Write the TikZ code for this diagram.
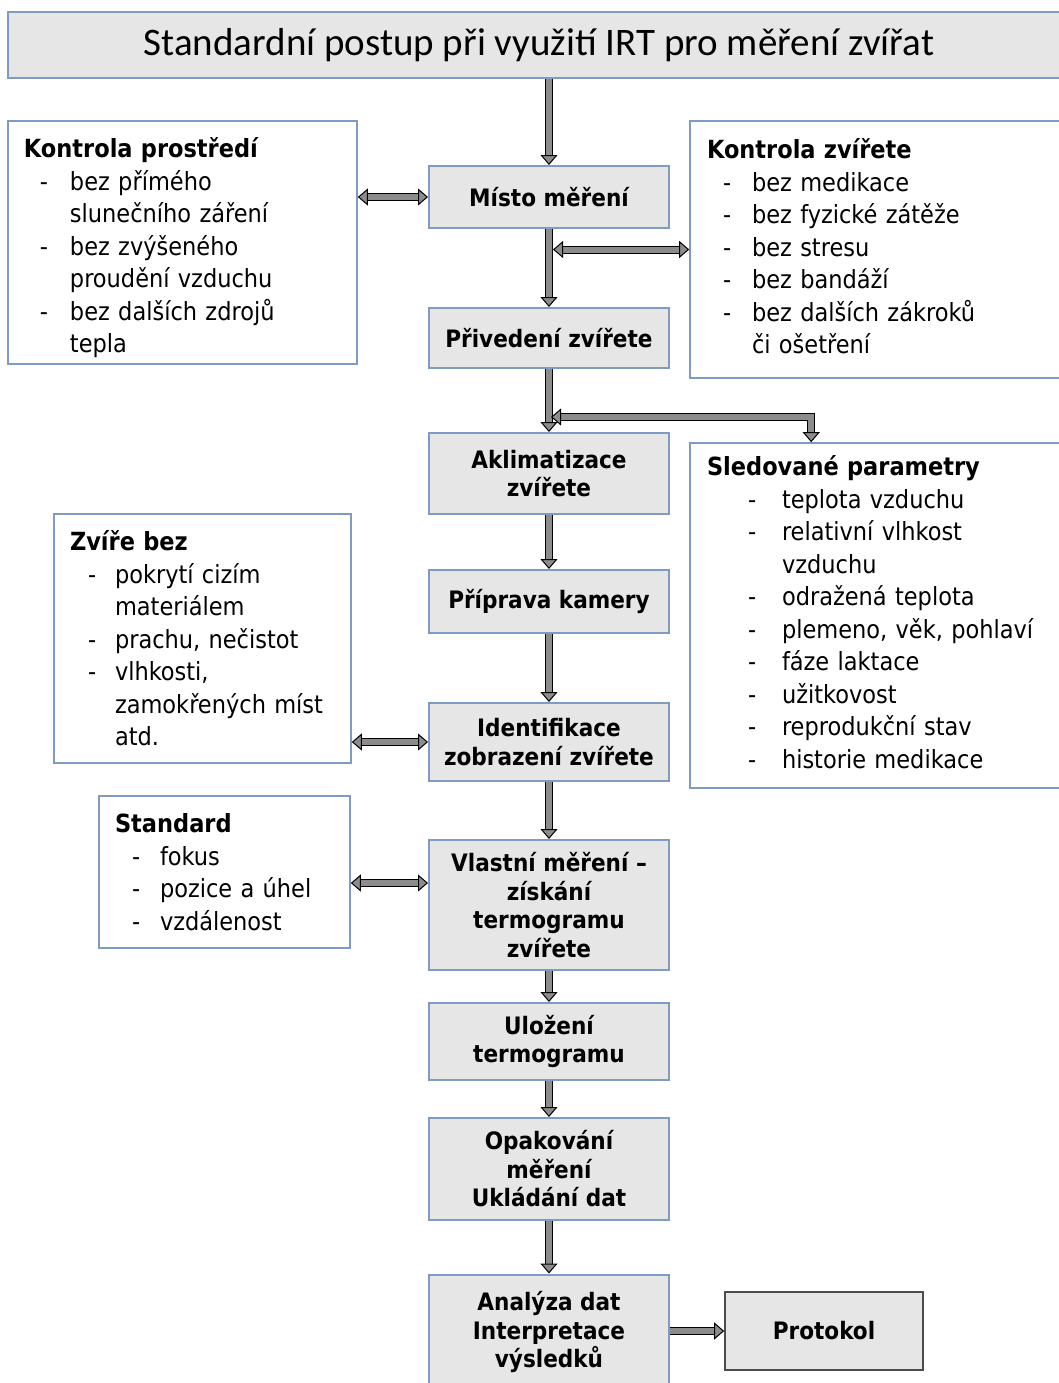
\documentclass[tikz,border=0pt]{standalone}
\usepackage{fontspec}
\setmainfont{DejaVu Sans Condensed}
\newfontfamily\titlefont{Carlito}
\usepackage{array}
\usetikzlibrary{arrows.meta}

\definecolor{boxblue}{RGB}{125,155,195}
\definecolor{boxgray}{RGB}{230,230,230}
\definecolor{shaftgray}{RGB}{140,140,140}

% side list: dash indent, dash column width, header, rows
\newcommand{\sidelist}[4]{%
	\begin{tabular}{@{\hspace{#1}}p{#2}@{}l@{}}
		\multicolumn{2}{@{}l@{}}{\textbf{#3}}\\
		#4
	\end{tabular}}

\tikzset{
	stepbox/.style={draw=boxblue, line width=1pt, fill=boxgray, minimum width=120pt,
		align=center, inner sep=2pt, font=\bfseries\fontsize{12}{14.25}\selectfont},
	sidebox/.style={draw=boxblue, line width=0.8pt, fill=white, align=left,
		inner ysep=0pt, font=\fontsize{12.5}{16.25}\selectfont},
	fattip/.tip={Triangle[open, fill=shaftgray, length=5pt, width=8.5pt]},
	fatarrow/.style={draw=black, line width=0.5pt, double=shaftgray, double distance=3pt, -fattip},
	fatboth/.style={fatarrow, fattip-fattip}
}

\begin{document}
\begin{tikzpicture}[x=0.5pt, y=-0.5pt]
	\clip (0,0) rectangle (1059,1383);
	
	% Title
	\node[draw=boxblue, line width=1pt, fill=boxgray, minimum width=531pt, minimum height=33pt,
		font=\titlefont\fontsize{19.5}{22}\selectfont] (title) at (539,45)
		{Standardní postup při využití IRT pro měření zvířat};
	
	% Main steps
	\node[stepbox, minimum height=31pt] (misto) at (549,197) {Místo měření};
	\node[stepbox, minimum height=30pt] (privedeni) at (549,338) {Přivedení zvířete};
	\node[stepbox, minimum height=40.5pt] (aklim) at (549,473.5) {Aklimatizace\\zvířete};
	\node[stepbox, minimum height=31.5pt] (kamera) at (549,601.5) {Příprava kamery};
	\node[stepbox, minimum height=39pt] (ident) at (549,742) {Identifikace\\zobrazení zvířete};
	\node[stepbox, minimum height=65pt] (vlastni) at (549,905) {Vlastní měření –\\získání\\termogramu\\zvířete};
	\node[stepbox, minimum height=38.5pt] (ulozeni) at (549,1041.5) {Uložení\\termogramu};
	\node[stepbox, minimum height=51pt] (opak) at (549,1169) {Opakování\\měření\\Ukládání dat};
	\node[stepbox, minimum height=57.5pt] (analyza) at (549,1332) {Analýza dat\\Interpretace\\výsledků};
	\node[stepbox, draw=black!70, line width=0.8pt, minimum width=99pt, minimum height=39pt] (protokol) at (824,1331) {Protokol};
	
	% Side boxes
	\node[sidebox, text width=158.5pt, inner xsep=8pt, minimum height=121.5pt] (kprost) at (182.5,242.5)
		{\vspace*{-6pt}\sidelist{8pt}{15pt}{Kontrola prostředí}{
			- & bez přímého\\
			  & slunečního záření\\
			- & bez zvýšeného\\
			  & proudění vzduchu\\
			- & bez dalších zdrojů\\
			  & tepla}};
	\node[sidebox, text width=173pt, inner xsep=8.5pt, minimum height=128.5pt] (kzvire) at (880,249.5)
		{\sidelist{8pt}{14.5pt}{Kontrola zvířete}{
			- & bez medikace\\
			- & bez fyzické zátěže\\
			- & bez stresu\\
			- & bez bandáží\\
			- & bez dalších zákroků\\
			  & či ošetření}};
	\node[sidebox, text width=173pt, inner xsep=8.5pt, minimum height=172.5pt] (sled) at (880,615.5)
		{\sidelist{20.5pt}{17pt}{Sledované parametry}{
			- & teplota vzduchu\\
			- & relativní vlhkost\\
			  & vzduchu\\
			- & odražená teplota\\
			- & plemeno, věk, pohlaví\\
			- & fáze laktace\\
			- & užitkovost\\
			- & reprodukční stav\\
			- & historie medikace}};
	\node[sidebox, text width=132.5pt, inner xsep=8pt, minimum height=124.5pt] (zvirebez) at (202.5,638.5)
		{\vspace*{-3pt}\sidelist{9pt}{13.5pt}{Zvíře bez}{
			- & pokrytí cizím\\
			  & materiálem\\
			- & prachu, nečistot\\
			- & vlhkosti,\\
			  & zamokřených míst\\
			  & atd.}};
	\node[sidebox, text width=109.5pt, inner xsep=8pt, minimum height=76pt] (standard) at (224.5,872)
		{\vspace*{-3pt}\sidelist{8.5pt}{14pt}{Standard}{
			- & fokus\\
			- & pozice a úhel\\
			- & vzdálenost}};
	
	% Connectors along the main chain
	\draw[fatarrow] (title.south -| misto.north) -- (misto.north);
	\draw[fatarrow] (misto) -- (privedeni);
	\draw[fatarrow] (privedeni) -- (aklim);
	\draw[fatarrow] (aklim) -- (kamera);
	\draw[fatarrow] (kamera) -- (ident);
	\draw[fatarrow] (ident) -- (vlastni);
	\draw[fatarrow] (vlastni) -- (ulozeni);
	\draw[fatarrow] (ulozeni) -- (opak);
	\draw[fatarrow] (opak) -- (analyza);
	\draw[fatarrow] (analyza.east |- protokol.west) -- (protokol.west);
	
	% Connectors to the side boxes
	\coordinate (joinB) at (551,417);
	\draw[fatboth] (kprost.east |- misto.west) -- (misto.west);
	\draw[fatboth] ([xshift=2pt]misto.south |- kzvire.west) -- (kzvire.west);
	\draw[fatboth] (joinB) -| ([xshift=61pt]sled.north west);
	\draw[fatboth] (zvirebez.east |- ident.west) -- (ident.west);
	\draw[fatboth] ([yshift=-5.5pt]standard.east) -- ([yshift=-5.5pt]standard.east -| vlastni.west);
\end{tikzpicture}
\end{document}
